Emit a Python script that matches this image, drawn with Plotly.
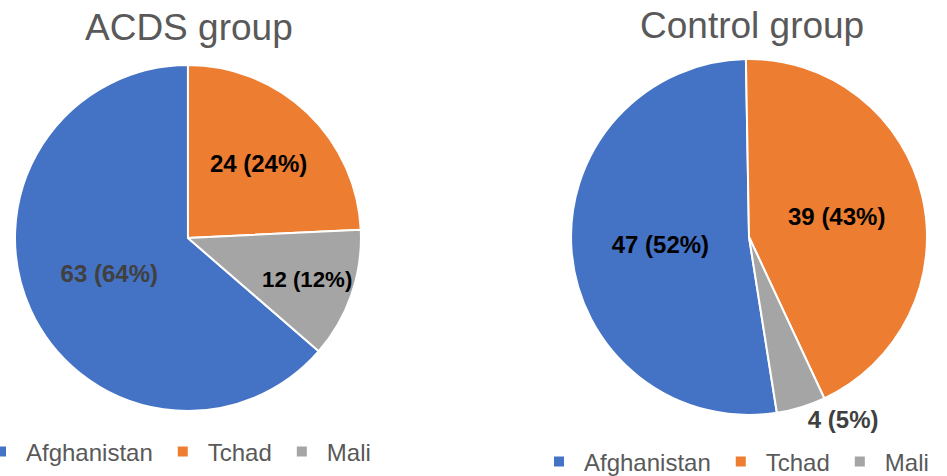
import plotly.graph_objects as go

categories = ["Afghanistan", "Tchad", "Mali"]
acds_values = [63, 24, 12]
acds_pct = ["64%", "24%", "12%"]
control_values = [47, 39, 4]
control_pct = ["52%", "43%", "5%"]
colors = ["#4472C4", "#ED7D31", "#A5A5A5"]

fig = go.Figure()

fig.add_trace(go.Pie(
    labels=categories, values=acds_values, text=acds_pct,
    texttemplate="<b>%{value} (%{text})</b>",
    textposition=["inside", "inside", "inside"],
    insidetextorientation="horizontal",
    insidetextfont=dict(family="Liberation Sans, Arial", size=24,
                        color=["#404040", "#000000", "#000000"]),
    sort=False, direction="clockwise", rotation=130.9,
    marker=dict(colors=colors, line=dict(color="white", width=2)),
    domain=dict(x=[0.0158, 0.3812], y=[0.1366, 0.8634]),
    hoverinfo="skip", legend="legend", legendgroup="acds",
))

fig.add_trace(go.Pie(
    labels=categories, values=control_values, text=control_pct,
    texttemplate="<b>%{value} (%{text})</b>",
    textposition=["inside", "inside", "outside"],
    insidetextorientation="horizontal",
    insidetextfont=dict(family="Liberation Sans, Arial", size=24,
                        color=["#000000", "#000000", "#404040"]),
    outsidetextfont=dict(family="Liberation Sans, Arial", size=24,
                         color="#404040"),
    sort=False, direction="clockwise", rotation=171,
    marker=dict(colors=colors, line=dict(color="white", width=2)),
    domain=dict(x=[0.6030, 0.9789], y=[0.1282, 0.8761]),
    hoverinfo="skip", legend="legend2", legendgroup="control",
))

title_font = dict(family="Liberation Sans, Arial", size=37, color="#595959")
legend_font = dict(family="Liberation Sans, Arial", size=24, color="#595959")

fig.update_layout(
    width=947, height=476,
    margin=dict(l=0, r=0, t=0, b=0, autoexpand=False),
    paper_bgcolor="white", plot_bgcolor="white",
    annotations=[
        dict(text="ACDS group", x=189/947, y=1-27/476, xref="paper", yref="paper",
             showarrow=False, font=title_font, xanchor="center", yanchor="middle"),
        dict(text="Control group", x=752/947, y=1-25/476, xref="paper", yref="paper",
             showarrow=False, font=title_font, xanchor="center", yanchor="middle"),
    ],
    legend=dict(orientation="h", x=-24/947, y=1-452/476, xanchor="left", yanchor="middle",
                font=legend_font, itemwidth=40, bgcolor="rgba(0,0,0,0)",
                traceorder="normal"),
    legend2=dict(orientation="h", x=534/947, y=1-462/476, xanchor="left", yanchor="middle",
                 font=legend_font, itemwidth=40, bgcolor="rgba(0,0,0,0)",
                 traceorder="normal"),
)

fig.write_html("out.html", post_script="document.body.style.margin='0';",
               config={"displayModeBar": False})
